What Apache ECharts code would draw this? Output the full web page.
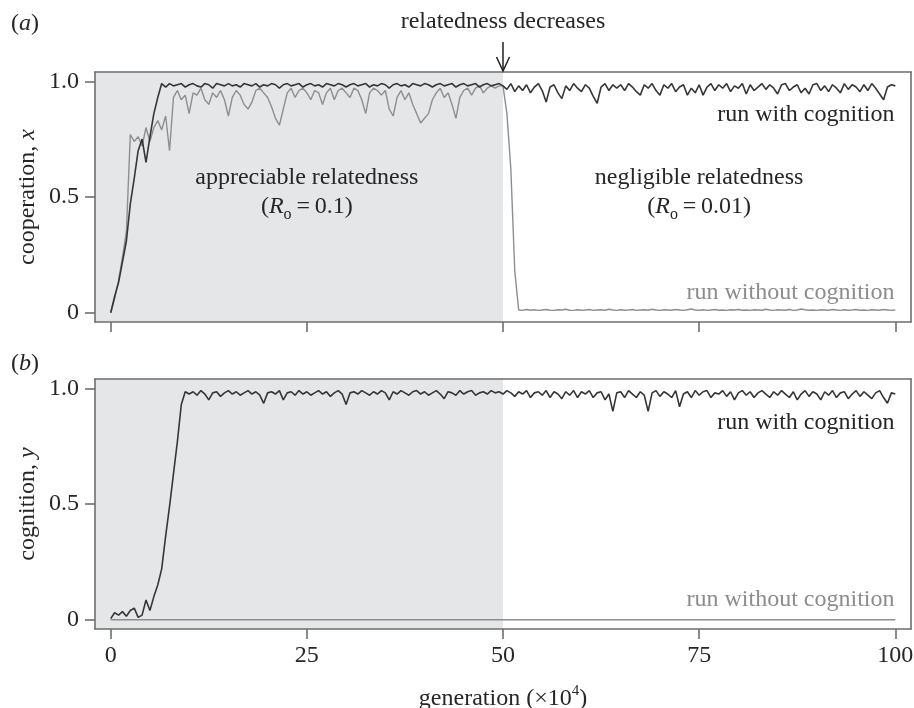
<!DOCTYPE html>
<html>
<head>
<meta charset="utf-8">
<script src="https://cdn.jsdelivr.net/npm/echarts@6/dist/echarts.min.js"></script>
<style>
html,body{margin:0;padding:0;background:#ffffff;}
#main{width:914px;height:708px;}
</style>
</head>
<body>
<div id="main"></div>
<script>
// ---------------- data ----------------
const generation = [
  0,0.5,1,1.5,2,2.5,3,3.5,4,4.5,
  5,5.5,6,6.5,7,7.5,8,8.5,9,9.5,
  10,10.5,11,11.5,12,12.5,13,13.5,14,14.5,
  15,15.5,16,16.5,17,17.5,18,18.5,19,19.5,
  20,20.5,21,21.5,22,22.5,23,23.5,24,24.5,
  25,25.5,26,26.5,27,27.5,28,28.5,29,29.5,
  30,30.5,31,31.5,32,32.5,33,33.5,34,34.5,
  35,35.5,36,36.5,37,37.5,38,38.5,39,39.5,
  40,40.5,41,41.5,42,42.5,43,43.5,44,44.5,
  45,45.5,46,46.5,47,47.5,48,48.5,49,49.5,
  50,50.5,51,51.5,52,52.5,53,53.5,54,54.5,
  55,55.5,56,56.5,57,57.5,58,58.5,59,59.5,
  60,60.5,61,61.5,62,62.5,63,63.5,64,64.5,
  65,65.5,66,66.5,67,67.5,68,68.5,69,69.5,
  70,70.5,71,71.5,72,72.5,73,73.5,74,74.5,
  75,75.5,76,76.5,77,77.5,78,78.5,79,79.5,
  80,80.5,81,81.5,82,82.5,83,83.5,84,84.5,
  85,85.5,86,86.5,87,87.5,88,88.5,89,89.5,
  90,90.5,91,91.5,92,92.5,93,93.5,94,94.5,
  95,95.5,96,96.5,97,97.5,98,98.5,99,99.5,
  100
];

// (a) cooperation, run with cognition
const cooperationWithCognition = [
  0.00,0.07,0.13,0.22,0.31,0.47,0.58,0.70,0.75,0.65,
  0.76,0.86,0.93,0.99,0.975,0.99,0.98,0.985,0.99,0.975,
  0.985,0.99,0.98,0.975,0.99,0.985,0.97,0.99,0.985,0.98,
  0.99,0.98,0.985,0.975,0.99,0.985,0.98,0.99,0.975,0.985,
  0.98,0.99,0.985,0.97,0.985,0.99,0.98,0.985,0.99,0.975,
  0.985,0.99,0.98,0.985,0.975,0.99,0.985,0.98,0.99,0.985,
  0.975,0.985,0.99,0.98,0.985,0.99,0.975,0.985,0.98,0.99,
  0.985,0.97,0.985,0.99,0.98,0.985,0.975,0.99,0.985,0.98,
  0.99,0.985,0.975,0.985,0.99,0.98,0.985,0.99,0.975,0.985,
  0.99,0.98,0.985,0.99,0.975,0.985,0.99,0.98,0.985,0.99,
  0.98,0.965,0.99,0.955,0.98,0.96,0.985,0.95,0.975,0.99,
  0.96,0.91,0.975,0.985,0.95,0.925,0.98,0.96,0.99,0.97,
  0.955,0.985,0.97,0.935,0.905,0.975,0.99,0.96,0.985,0.97,
  0.985,0.96,0.99,0.975,0.955,0.94,0.985,0.97,0.99,0.96,
  0.94,0.985,0.97,0.99,0.955,0.975,0.985,0.94,0.97,0.95,
  0.985,0.94,0.975,0.99,0.96,0.985,0.97,0.99,0.955,0.98,
  0.97,0.99,0.945,0.985,0.96,0.975,0.99,0.965,0.985,0.97,
  0.945,0.985,0.99,0.96,0.975,0.985,0.95,0.97,0.945,0.985,
  0.99,0.96,0.98,0.955,0.985,0.97,0.95,0.99,0.965,0.985,
  0.975,0.955,0.985,0.96,0.99,0.97,0.945,0.92,0.975,0.985,
  0.98
];

// (a) cooperation, run without cognition
const cooperationWithoutCognition = [
  0.00,0.06,0.14,0.24,0.35,0.77,0.74,0.76,0.72,0.80,
  0.74,0.80,0.83,0.79,0.85,0.70,0.93,0.96,0.92,0.94,
  0.86,0.95,0.94,0.97,0.92,0.90,0.95,0.93,0.96,0.92,
  0.85,0.93,0.96,0.94,0.90,0.88,0.91,0.96,0.97,0.95,
  0.93,0.89,0.84,0.81,0.88,0.95,0.97,0.93,0.96,0.97,
  0.95,0.92,0.96,0.95,0.90,0.95,0.97,0.92,0.96,0.97,
  0.95,0.93,0.97,0.96,0.92,0.86,0.95,0.97,0.96,0.94,
  0.96,0.88,0.85,0.93,0.96,0.92,0.95,0.90,0.86,0.82,
  0.84,0.86,0.92,0.95,0.97,0.93,0.95,0.90,0.84,0.93,
  0.96,0.97,0.94,0.97,0.98,0.95,0.97,0.98,0.97,0.98,
  0.98,0.86,0.62,0.18,0.012,0.010,0.014,0.011,0.013,0.010,
  0.012,0.014,0.011,0.010,0.013,0.012,0.015,0.011,0.010,0.013,
  0.011,0.012,0.014,0.010,0.012,0.013,0.011,0.015,0.012,0.010,
  0.013,0.011,0.012,0.014,0.010,0.012,0.013,0.011,0.015,0.012,
  0.010,0.013,0.012,0.011,0.014,0.012,0.010,0.013,0.016,0.012,
  0.011,0.013,0.010,0.012,0.014,0.011,0.012,0.010,0.013,0.012,
  0.014,0.011,0.012,0.010,0.013,0.012,0.011,0.015,0.012,0.010,
  0.013,0.012,0.011,0.014,0.010,0.012,0.016,0.013,0.011,0.012,
  0.010,0.013,0.012,0.011,0.014,0.012,0.010,0.013,0.011,0.012,
  0.014,0.011,0.012,0.010,0.013,0.012,0.011,0.014,0.012,0.010,
  0.012
];

// (b) cognition, run with cognition
const cognitionWithCognition = [
  0.005,0.03,0.02,0.035,0.015,0.04,0.05,0.01,0.02,0.085,
  0.04,0.10,0.15,0.22,0.36,0.49,0.63,0.77,0.93,0.985,
  0.975,0.985,0.97,0.99,0.975,0.95,0.98,0.985,0.965,0.98,
  0.99,0.975,0.985,0.97,0.98,0.99,0.975,0.985,0.97,0.935,
  0.98,0.985,0.975,0.99,0.95,0.98,0.985,0.97,0.99,0.975,
  0.985,0.97,0.98,0.99,0.975,0.985,0.965,0.98,0.99,0.975,
  0.93,0.98,0.985,0.975,0.99,0.98,0.97,0.985,0.975,0.99,
  0.98,0.95,0.985,0.975,0.99,0.98,0.97,0.985,0.99,0.975,
  0.985,0.97,0.98,0.99,0.975,0.955,0.985,0.98,0.97,0.99,
  0.975,0.985,0.99,0.97,0.98,0.985,0.975,0.99,0.98,0.985,
  0.975,0.99,0.98,0.965,0.985,0.975,0.99,0.96,0.98,0.985,
  0.97,0.99,0.96,0.985,0.975,0.955,0.985,0.97,0.99,0.96,
  0.985,0.975,0.99,0.96,0.98,0.985,0.95,0.975,0.90,0.98,
  0.985,0.96,0.99,0.975,0.96,0.985,0.97,0.90,0.98,0.99,
  0.965,0.985,0.975,0.96,0.99,0.92,0.975,0.985,0.96,0.99,
  0.97,0.985,0.99,0.96,0.98,0.975,0.99,0.965,0.985,0.95,
  0.98,0.99,0.97,0.985,0.96,0.98,0.99,0.975,0.96,0.985,
  0.97,0.99,0.975,0.96,0.985,0.95,0.975,0.99,0.965,0.985,
  0.975,0.95,0.985,0.97,0.99,0.96,0.98,0.985,0.955,0.975,
  0.99,0.965,0.985,0.97,0.955,0.98,0.99,0.96,0.935,0.98,
  0.975
];

// (b) cognition, run without cognition (stays at zero)
const cognitionWithoutGeneration = [0, 100];
const cognitionWithoutCognition = [0, 0];

const xTicks = [0, 25, 50, 75, 100];
const yTicks = [0, 0.5, 1.0];
const yTickLabels = ['0', '0.5', '1.0'];
const relatednessSwitch = 50;   // generation (x10^4) where relatedness decreases

// ---------------- style ----------------
const FONT = 'Liberation Serif';
const FS = 24;
const frameColor = '#6e6e6e';
const textDark = '#262626';
const textGray = '#8c8c8c';
const lineDark = '#363636';
const lineGray = '#8e8e8e';
const shade = '#e5e6e8';
const X_MIN = -2, X_MAX = 102, Y_MIN = -0.04, Y_MAX = 1.04;

function pairs(xs, ys) { return xs.map((x, i) => [x, ys[i]]); }

const gridBox = [
  { left: 95, top: 72, width: 816, height: 250 },
  { left: 95, top: 379, width: 816, height: 250 }
];

const lineSty = { color: frameColor, width: 1.6 };

function mainX(gi, withLabels) {
  return {
    type: 'value', gridIndex: gi, position: 'bottom', min: X_MIN, max: X_MAX, z: 5,
    axisLine: { show: true, onZero: false, lineStyle: lineSty },
    axisTick: { show: true, customValues: xTicks, length: 10, inside: false, lineStyle: lineSty },
    axisLabel: withLabels ? {
      show: true, customValues: xTicks, margin: 15,
      fontFamily: FONT, fontSize: FS, color: textDark
    } : { show: false },
    splitLine: { show: false },
    name: withLabels ? '{n|generation (×10}{s|4}{n|)}' : '',
    nameLocation: 'middle', nameGap: 55, nameMoveOverlap: false,
    nameTextStyle: {
      rich: {
        n: { fontFamily: FONT, fontSize: FS, color: textDark },
        s: { fontFamily: FONT, fontSize: 15, color: textDark, padding: [0, 0, 14, 0] }
      }
    }
  };
}
function frameX(gi) {
  return {
    type: 'value', gridIndex: gi, position: 'top', min: X_MIN, max: X_MAX, z: 5,
    axisLine: { show: true, onZero: false, lineStyle: lineSty },
    axisTick: { show: false }, axisLabel: { show: false }, splitLine: { show: false }
  };
}
function mainY(gi, nameRich) {
  return {
    type: 'value', gridIndex: gi, position: 'left', min: Y_MIN, max: Y_MAX, z: 5,
    axisLine: { show: true, onZero: false, lineStyle: lineSty },
    axisTick: { show: true, customValues: yTicks, length: 10, inside: false, lineStyle: lineSty },
    axisLabel: {
      show: true, customValues: yTicks, margin: 16,
      fontFamily: FONT, fontSize: FS, color: textDark,
      formatter: (v) => { const k = yTicks.findIndex(t => Math.abs(t - v) < 1e-9); return k >= 0 ? yTickLabels[k] : ''; }
    },
    splitLine: { show: false },
    name: nameRich, nameLocation: 'middle', nameGap: 55, nameMoveOverlap: false,
    nameTextStyle: {
      rich: {
        n: { fontFamily: FONT, fontSize: FS, color: textDark },
        i: { fontFamily: FONT, fontSize: FS, color: textDark, fontStyle: 'italic' }
      }
    }
  };
}
function frameY(gi) {
  return {
    type: 'value', gridIndex: gi, position: 'right', min: Y_MIN, max: Y_MAX, z: 5,
    axisLine: { show: true, onZero: false, lineStyle: lineSty },
    axisTick: { show: false }, axisLabel: { show: false }, splitLine: { show: false }
  };
}

function shadeSeries(gi) {
  return {
    type: 'line', xAxisIndex: gi, yAxisIndex: gi, data: [], z: 1, silent: true,
    markArea: {
      silent: true,
      itemStyle: { color: shade, borderWidth: 0 },
      data: [[{ xAxis: X_MIN }, { xAxis: relatednessSwitch }]]
    }
  };
}
function lineSeries(gi, xs, ys, color, z, w) {
  return {
    type: 'line', xAxisIndex: gi, yAxisIndex: gi, data: pairs(xs, ys),
    showSymbol: false, symbol: 'none', z: z, silent: true,
    lineStyle: { color: color, width: w }, sampling: null
  };
}

const option = {
  animation: false,
  backgroundColor: '#ffffff',
  textStyle: { fontFamily: FONT },
  grid: gridBox.map(g => Object.assign({ outerBoundsMode: 'none', containLabel: false }, g)),
  xAxis: [mainX(0, false), mainX(1, true), frameX(0), frameX(1)],
  yAxis: [mainY(0, '{n|cooperation, }{i|x}'), mainY(1, '{n|cognition, }{i|y}'), frameY(0), frameY(1)],
  series: [
    shadeSeries(0),
    shadeSeries(1),
    lineSeries(0, generation, cooperationWithoutCognition, lineGray, 3, 1.4),
    lineSeries(0, generation, cooperationWithCognition, lineDark, 4, 1.6),
    lineSeries(1, cognitionWithoutGeneration, cognitionWithoutCognition, lineGray, 3, 1.4),
    lineSeries(1, generation, cognitionWithCognition, lineDark, 4, 1.6)
  ]
};

const chart = echarts.init(document.getElementById('main'), null, { renderer: 'canvas' });
chart.setOption(option);

// ---------------- annotations ----------------
const P0 = (x, y) => chart.convertToPixel({ xAxisIndex: 0, yAxisIndex: 0 }, [x, y]);
const P1 = (x, y) => chart.convertToPixel({ xAxisIndex: 1, yAxisIndex: 1 }, [x, y]);

const richBase = {
  n: { fontFamily: FONT, fontSize: FS, fill: textDark, color: textDark },
  i: { fontFamily: FONT, fontSize: FS, fill: textDark, color: textDark, fontStyle: 'italic' },
  s: { fontFamily: FONT, fontSize: 16, fill: textDark, color: textDark, padding: [16, 0, 0, 0] }
};

function txt(pt, text, align, color, rich) {
  const style = {
    text: text, fill: color, font: FS + 'px "' + FONT + '"',
    align: align, verticalAlign: 'middle', textAlign: align, textVerticalAlign: 'middle'
  };
  if (rich) style.rich = rich;
  return { type: 'text', x: pt[0], y: pt[1], z: 20, silent: true, style: style };
}

const a1 = P0(25, 0.583), a2 = P0(25, 0.458);
const b1 = P0(75, 0.583), b2 = P0(75, 0.458);
const rw0 = P0(99.9, 0.854), rwo0 = P0(99.9, 0.085);
const rw1 = P1(99.9, 0.852), rwo1 = P1(99.9, 0.085);
const arrowBase = P0(relatednessSwitch, Y_MAX);
const ax = arrowBase[0], ay = arrowBase[1];

chart.setOption({
  graphic: [
    txt([11, 24], '({i|a})', 'left', textDark, richBase),
    txt([11, 364], '({i|b})', 'left', textDark, richBase),
    txt([ax, 22], 'relatedness decreases', 'center', textDark),
    { type: 'line', z: 20, silent: true, shape: { x1: ax, y1: ay - 30, x2: ax, y2: ay - 1 },
      style: { stroke: '#222', lineWidth: 1.5 } },
    { type: 'polyline', z: 20, silent: true,
      shape: { points: [[ax - 6.5, ay - 15], [ax, ay - 1], [ax + 6.5, ay - 15]] },
      style: { stroke: '#222', lineWidth: 1.5, fill: null } },
    txt(a1, 'appreciable relatedness', 'center', textDark),
    txt(a2, '{n|(}{i|R}{s|o}{n|\u2009=\u20090.1)}', 'center', textDark, richBase),
    txt(b1, 'negligible relatedness', 'center', textDark),
    txt(b2, '{n|(}{i|R}{s|o}{n|\u2009=\u20090.01)}', 'center', textDark, richBase),
    txt(rw0, 'run with cognition', 'right', textDark),
    txt(rwo0, 'run without cognition', 'right', textGray),
    txt(rw1, 'run with cognition', 'right', textDark),
    txt(rwo1, 'run without cognition', 'right', textGray)
  ]
});
</script>
</body>
</html>
